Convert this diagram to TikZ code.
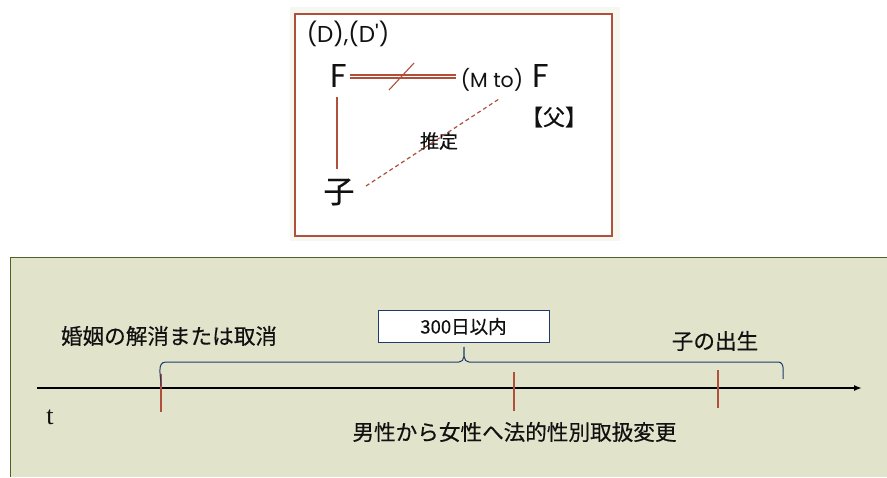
\documentclass[tikz,border=0pt]{standalone}
\usepackage{fontspec}
\setmainfont{Noto Sans CJK JP}[FakeBold=0.4]
\newfontfamily\latinf{Poppins}
\newfontfamily\serift{Liberation Serif}
\usetikzlibrary{arrows.meta}
\definecolor{redline}{HTML}{B0503A}
\definecolor{panelbg}{HTML}{E1E3CA}
\definecolor{panelborder}{HTML}{4A6428}
\definecolor{topbg}{HTML}{F7F7F1}
\definecolor{bracecol}{HTML}{1F3A6E}
\definecolor{txt}{HTML}{111111}
\tikzset{
  lbl/.style={inner sep=0pt, text=txt},
  tick/.style={draw=redline, line width=1.8pt},
}
\begin{document}
\begin{tikzpicture}[x=1pt,y=-1pt]
\useasboundingbox (0,0) rectangle (887,477);
\fill[white] (0,0) rectangle (887,477);
% top panel
\fill[topbg] (290,7) rectangle (620,241);
\draw[redline, line width=1.2pt, fill=white] (295,14) rectangle (612,236);
\node[lbl, font=\latinf\fontsize{23}{26}\selectfont] (dd) at (348,34) {(D),(D')};
\node[lbl, font=\latinf\fontsize{33}{36}\selectfont] (F1) at (339,76) {F};
\node[lbl, font=\latinf\fontsize{20.5}{24}\selectfont] (mto) at (492,80) {(M to)};
\node[lbl, font=\latinf\fontsize{33}{36}\selectfont] (F2) at (541,76) {F};
\node[lbl, font=\fontsize{22}{26}\selectfont] (fa) at (554,117) {【父】};
\node[lbl, font=\fontsize{31}{34}\selectfont] (ko) at (339,192) {子};
\node[lbl, font=\fontsize{19}{22}\selectfont] (sui) at (439,141) {推定};
\coordinate (dl1) at (350,76.5);
\coordinate (dl2) at (456,76.5);
\draw[redline, line width=1.3pt, double=white, double distance=1.6pt] (dl1) -- (dl2);
\coordinate (s1) at (389,90);
\coordinate (s2) at (414,63);
\draw[redline, line width=1.1pt] (s1) -- (s2);
\coordinate (v1) at (337,97);
\coordinate (v2) at (337,169);
\draw[redline, line width=1.3pt] (v1) -- (v2);
\coordinate (d1) at (366,186);
\coordinate (d2) at (499,99);
\draw[redline, line width=1.2pt, dash pattern=on 4pt off 3pt] (d1) -- (d2);
% bottom panel
\fill[panelbg] (10,257) rectangle (887,477);
\draw[panelborder, line width=1.5pt] (10.5,477) -- (10.5,257.5) -- (887,257.5);
% timeline
\coordinate (a0) at (37,388);
\coordinate (a1) at (862,388);
\draw[black, line width=2pt, -{Latex[length=8pt,width=6pt]}] (a0) -- (a1);
\draw[tick] (161,374) -- (161,412);
\draw[tick] (514,372) -- (514,411);
\draw[tick] (718,370) -- (718,408);
% brace
\draw[bracecol, line width=1pt] (161,386) to[out=90,in=180] (166,362) -- (459,362) to[out=0,in=-90] (464,347) to[out=-90,in=180] (469,362) -- (778,362) to[out=0,in=90] (783,379);
\node[draw=bracecol, line width=1pt, fill=white, minimum width=171pt, minimum height=32pt, inner sep=0pt, text=txt, font=\fontsize{18.5}{21}\selectfont] (days) at (463.5,326.5) {300日以内};
\node[lbl, font=\fontsize{21.6}{25}\selectfont] (kon) at (169,336) {婚姻の解消または取消};
\node[lbl, font=\fontsize{21.6}{25}\selectfont] (birth) at (715,341) {子の出生};
\node[lbl, font=\serift\fontsize{26}{28}\selectfont] (t) at (50,417) {t};
\node[lbl, font=\fontsize{21.6}{25}\selectfont] (chg) at (514.5,432) {男性から女性へ法的性別取扱変更};
\end{tikzpicture}
\end{document}
